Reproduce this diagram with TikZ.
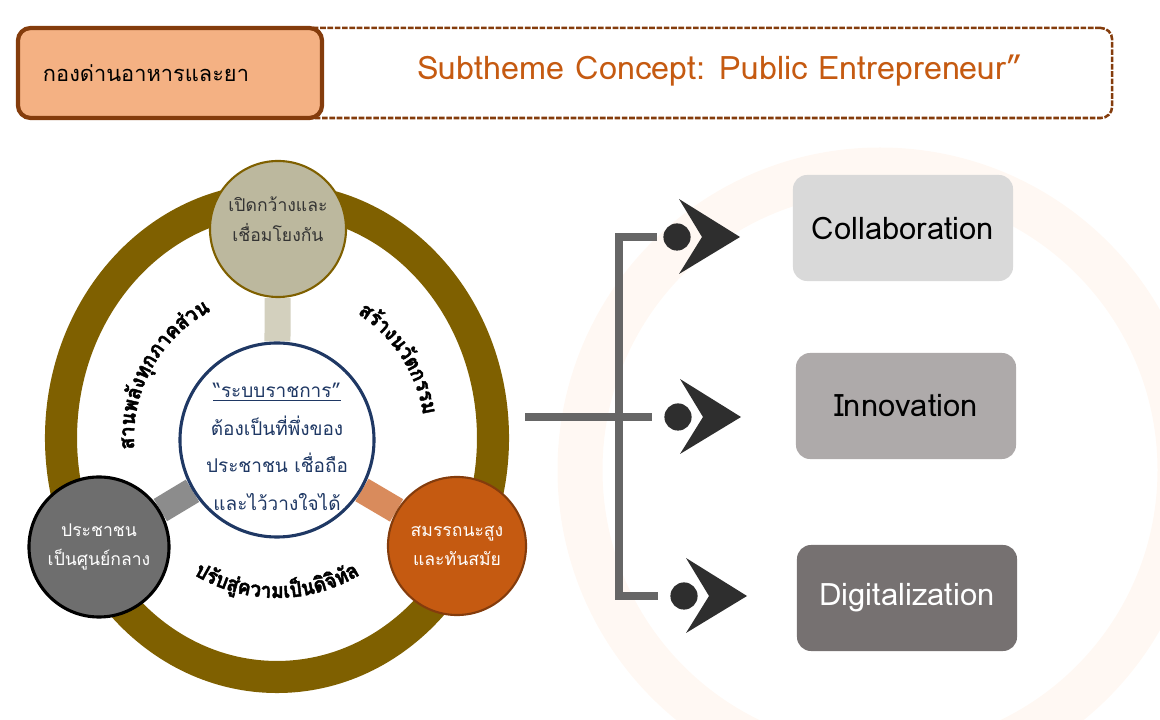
\documentclass[tikz,border=0pt]{standalone}
\usepackage{fontspec}
\newfontfamily\thai[Script=Thai]{Loma}
\usetikzlibrary{backgrounds}

\definecolor{hdrfill}{HTML}{F4B183}
\definecolor{hdrline}{HTML}{843C0C}
\definecolor{hdrtext}{HTML}{C55A11}
\definecolor{ringgold}{HTML}{7F6000}
\definecolor{topfill}{HTML}{BCB89E}
\definecolor{topband}{HTML}{D3D0BE}
\definecolor{navy}{HTML}{1F3864}
\definecolor{leftfill}{HTML}{6E6E6E}
\definecolor{leftband}{HTML}{8C8C8C}
\definecolor{rightfill}{HTML}{C55A11}
\definecolor{rightband}{HTML}{D98B5C}
\definecolor{trunkgray}{HTML}{666666}
\definecolor{iconblack}{HTML}{2E2E2E}
\definecolor{boxA}{HTML}{D9D9D9}
\definecolor{boxB}{HTML}{AEAAAA}
\definecolor{boxC}{HTML}{767171}
\definecolor{wmark}{HTML}{FFF8F3}

\newcommand{\curvefont}{\thai\bfseries\fontsize{15}{18}\selectfont\addfontfeatures{FakeBold=2,FakeStretch=0.92}}
\newlength{\glyphw}
\newlength{\arcw}
% widths of the letter clusters, taken before the picture: #1 name, #2 clusters
\newcommand{\measurearc}[2]{%
  \global\arcw=0pt
  \foreach \ch [count=\k] in {#2}{%
    \settowidth{\glyphw}{\curvefont\ch}%
    \expandafter\xdef\csname #1w\k\endcsname{\the\glyphw}%
    \global\advance\arcw by \glyphw}%
  \expandafter\xdef\csname #1total\endcsname{\the\arcw}}
% words bent round a centre: #1 centre, #2 radius, #3 middle angle,
% #4 +1 anticlockwise / -1 clockwise, #5 name, #6 letter clusters
\newcommand{\arcword}[6]{%
  \edef\arctotal{\csname #5total\endcsname}%
  \pgfmathsetmacro{\totang}{\arctotal/(#2*0.71132)*180/pi}%
  \pgfmathsetmacro{\startang}{#3-#4*\totang/2}%
  \xdef\arcang{\startang}%
  \foreach \ch [count=\k] in {#6}{%
    \edef\thisw{\csname #5w\k\endcsname}%
    \pgfmathsetmacro{\stepang}{\thisw/(#2*0.71132)*180/pi}%
    \pgfmathsetmacro{\midang}{\arcang+#4*\stepang/2}%
    \pgfmathsetmacro{\rot}{\midang+#4*90}%
    \node[glyph,rotate=\rot] (#5\k) at ([shift={(\midang:#2)}]#1) {\ch};%
    \pgfmathsetmacro{\nextang}{\arcang+#4*\stepang}%
    \xdef\arcang{\nextang}%
  }}

\begin{document}
\measurearc{lw}{ส,า,น,พ,ลั,ง,ทุ,ก,ภ,า,ค,ส่,ว,น}%
\measurearc{rw}{ส,ร้,า,ง,น,วั,ต,ก,ร,ร,ม}%
\measurearc{bw}{ป,รั,บ,สู่,ค,ว,า,ม,เ,ป็,น,ดิ,จิ,ทั,ล}%
\begin{tikzpicture}[x=0.025cm, y=0.025cm,
    hdrbox/.style={draw=hdrline, line width=3pt, fill=hdrfill, rounded corners=9pt,
      minimum height=2.25cm, text width=6.35cm, inner xsep=0.625cm, align=left,
      font=\thai\fontsize{15.5}{20}\selectfont},
    framebox/.style={draw=hdrline, line width=1.8pt, dash pattern=on 4pt off 1.2pt,
      rounded corners=8pt, minimum width=20.8cm, minimum height=2.25cm},
    titletext/.style={text=hdrtext, font=\thai\fontsize{23}{26}\selectfont},
    hub/.style={circle, draw=navy, line width=2.2pt, fill=white, minimum size=4.85cm,
      inner sep=0pt},
    hubtext/.style={align=center, text=navy, font=\thai\fontsize{13.5}{26.7}\selectfont},
    sat/.style={circle, minimum size=3.45cm, inner sep=0pt, align=center,
      font=\thai\fontsize{12.5}{21}\selectfont},
    sattext/.style={align=center, font=\thai\fontsize{12.5}{21}\selectfont},
    glyph/.style={font=\curvefont, inner sep=0pt, anchor=base},
    ring/.style={draw=ringgold, line width=22.8pt},
    band/.style={line width=18.5pt},
    wmark/.style={draw=wmark, line width=32pt},
    trunk/.style={draw=trunkgray, line width=5pt},
    dot/.style={circle, fill=iconblack, minimum size=0.68cm, inner sep=0pt},
    tag/.style={rounded corners=10pt, minimum width=5.5cm, minimum height=2.65cm,
      font=\thai\fontsize{22}{25}\selectfont}]
  \useasboundingbox (0,0) rectangle (1160,-720);

  % HEADER
  \node[framebox] (frame) at (696,-73) {};
  \node[hdrbox] (unit) at (170,-73) {กองด่านอาหารและยา};
  \node[titletext] (theme) at (720,-71) {Subtheme Concept: Public Entrepreneur”};

  % LEFT: wheel round the hub
  \node[hub] (hub) at (277,-440) {};
  \node[hubtext] (hubtext) at (277,-447) {\underline{“ระบบราชการ”}\\ต้องเป็นที่พึ่งของ\\ประชาชน เชื่อถือ\\และไว้วางใจได้};
  \node[sat, fill=topfill, draw=ringgold, line width=1.5pt, minimum size=3.4cm] (open) at (278,-229) {};
  \node[sattext, text=black!80] (opentext) at (278,-219) {เปิดกว้างและ\\เชื่อมโยงกัน};
  \node[sat, fill=leftfill, draw=black, line width=2.2pt, text=white, minimum size=3.5cm] (people) at (99,-547) {ประชาชน\\เป็นศูนย์กลาง};
  \node[sat, fill=rightfill, draw=hdrline, line width=1.5pt, text=white] (skill) at (457,-546) {สมรรถนะสูง\\และทันสมัย};

  % bent words
  \coordinate (arcc) at (277,-438);
  \arcword{arcc}{143}{151}{-1}{lw}{ส,า,น,พ,ลั,ง,ทุ,ก,ภ,า,ค,ส่,ว,น}
  \arcword{arcc}{148}{33}{-1}{rw}{ส,ร้,า,ง,น,วั,ต,ก,ร,ร,ม}
  \arcword{arcc}{160}{270}{1}{bw}{ป,รั,บ,สู่,ค,ว,า,ม,เ,ป็,น,ดิ,จิ,ทั,ล}

  % RIGHT: three targets
  \foreach \n/\x/\y/\tx/\ty/\fc/\tc/\word in {1/677/237/903/228/boxA/black/Collaboration,
      2/678/417/906/406/boxB/black/Innovation, 3/684/596/907/598/boxC/white/Digitalization}{
    \node[dot] (dot\n) at (\x,-\y) {};
    \fill[iconblack] ([shift={(2,38)}]dot\n.center) -- ([shift={(63,0)}]dot\n.center)
      -- ([shift={(2,-37)}]dot\n.center) -- ([shift={(25,0)}]dot\n.center) -- cycle;
    \node[tag, fill=\fc, text=\tc] (tag\n) at (\tx,-\ty) {\word};
  }
  \coordinate (stem) at (525,-417);
  \coordinate (fork) at (619,-417);
  \draw[trunk] ([shift={(-6,0)}]dot1.west) -| (fork) |- ([shift={(-12,0)}]dot3.west);
  \draw[trunk] (stem) -- ([shift={(-12,0)}]dot2.west);

  \begin{scope}[on background layer]
    \draw[wmark] (880,-470) circle (300);
    \draw[ring] (arcc) ellipse [x radius=216, y radius=239];
    \draw[band, draw=topband] (hub) -- (open);
    \draw[band, draw=leftband] (hub) -- (people);
    \draw[band, draw=rightband] (hub) -- (skill);
  \end{scope}
\end{tikzpicture}
\end{document}
